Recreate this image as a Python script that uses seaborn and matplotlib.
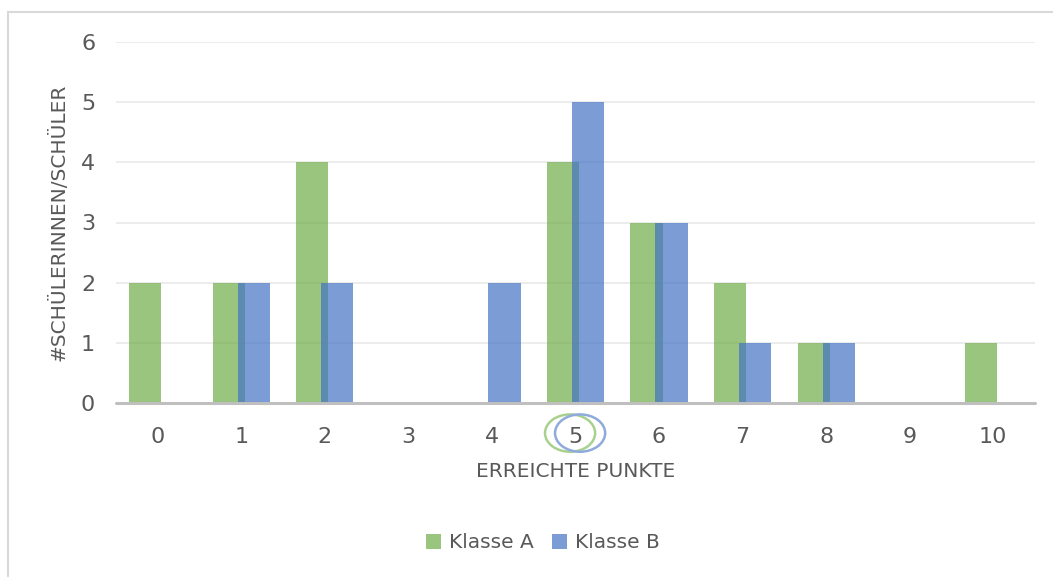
import numpy as np
import pandas as pd
import matplotlib
matplotlib.use("Agg")
import matplotlib.pyplot as plt
from matplotlib import font_manager
from matplotlib.patches import Ellipse, Rectangle, Patch
import seaborn as sns

# Points reached and number of pupils per class
points = [0, 1, 2, 3, 4, 5, 6, 7, 8, 9, 10]
klasse_a = [2, 2, 4, 0, 0, 4, 3, 2, 1, 0, 1]
klasse_b = [0, 2, 2, 0, 2, 5, 3, 1, 1, 0, 0]
series_names = ["Klasse A", "Klasse B"]
y_ticks = [0, 1, 2, 3, 4, 5, 6]
x_label = "ERREICHTE PUNKTE"
y_label = "#SCHÜLERINNEN/SCHÜLER"

GREEN = "#70AD47"
BLUE = "#4472C4"
TEXT = "#595959"

sns.set_theme(style="white")

available = {f.name for f in font_manager.fontManager.ttflist}
narrow = next((n for n in ["DejaVu Sans Condensed", "Liberation Sans Narrow"] if n in available), "DejaVu Sans")
plt.rcParams["font.family"] = ["DejaVu Sans"]

df = pd.DataFrame({"punkte": points, "A": klasse_a, "B": klasse_b})
offset = 0.15
bar_w = 0.385

fig = plt.figure(figsize=(10.53, 5.77), dpi=100)
ax = fig.add_axes([116 / 1053, 1 - 403 / 577, (1035 - 116) / 1053, (403 - 42) / 577])

sns.barplot(x=df["punkte"] - offset, y=df["A"], native_scale=True, width=bar_w,
            color=GREEN, alpha=0.7, linewidth=0, saturation=1, ax=ax, zorder=2)
sns.barplot(x=df["punkte"] + offset, y=df["B"], native_scale=True, width=bar_w,
            color=BLUE, alpha=0.7, linewidth=0, saturation=1, ax=ax, zorder=3)

ax.set_xlim(-0.5, 10.5)
ax.set_ylim(0, 6)
ax.set_xticks(points)
ax.set_xticklabels([str(p) for p in points])
ax.set_yticks(y_ticks)
ax.set_yticklabels([str(t) for t in y_ticks])
ax.tick_params(axis="both", length=0, labelsize=16, colors=TEXT)
ax.tick_params(axis="x", pad=17)
ax.tick_params(axis="y", pad=15)

for t in y_ticks[1:]:
    ax.axhline(t, color="#ececec", lw=1.4, zorder=1)
ax.axhline(0, color="#bfbfbf", lw=2.2, zorder=4, clip_on=False)
for s in ax.spines.values():
    s.set_visible(False)

ax.set_xlabel(x_label, fontsize=14.5, color=TEXT, family=[narrow, "DejaVu Sans"], labelpad=11)
ax.set_ylabel(y_label, fontsize=14.5, color=TEXT, family=[narrow, "DejaVu Sans"], labelpad=9)

# highlight rings around the tick label "5"
ax.add_patch(Ellipse((5 - 0.065, -0.5), 0.6, 0.62, fill=False, ec="#A9D18E", lw=1.8, clip_on=False, zorder=5))
ax.add_patch(Ellipse((5 + 0.055, -0.5), 0.6, 0.62, fill=False, ec="#8FAADC", lw=1.8, clip_on=False, zorder=5))

handles = [Patch(color=GREEN, alpha=0.7, lw=0), Patch(color=BLUE, alpha=0.7, lw=0)]
fig.legend(handles, series_names, loc="center", bbox_to_anchor=(543 / 1053, 1 - 543 / 577),
           ncol=2, frameon=False, handlelength=0.75, handleheight=0.75, handletextpad=0.4,
           columnspacing=0.9, prop={"family": [narrow, "DejaVu Sans"], "size": 14.5}, labelcolor=TEXT)

fig.add_artist(Rectangle((8 / 1053, -0.05), 1.2, 1.05 - 12 / 577, transform=fig.transFigure,
                         fill=False, ec="#d9d9d9", lw=1.5))

fig.savefig("out.png", dpi=100)
